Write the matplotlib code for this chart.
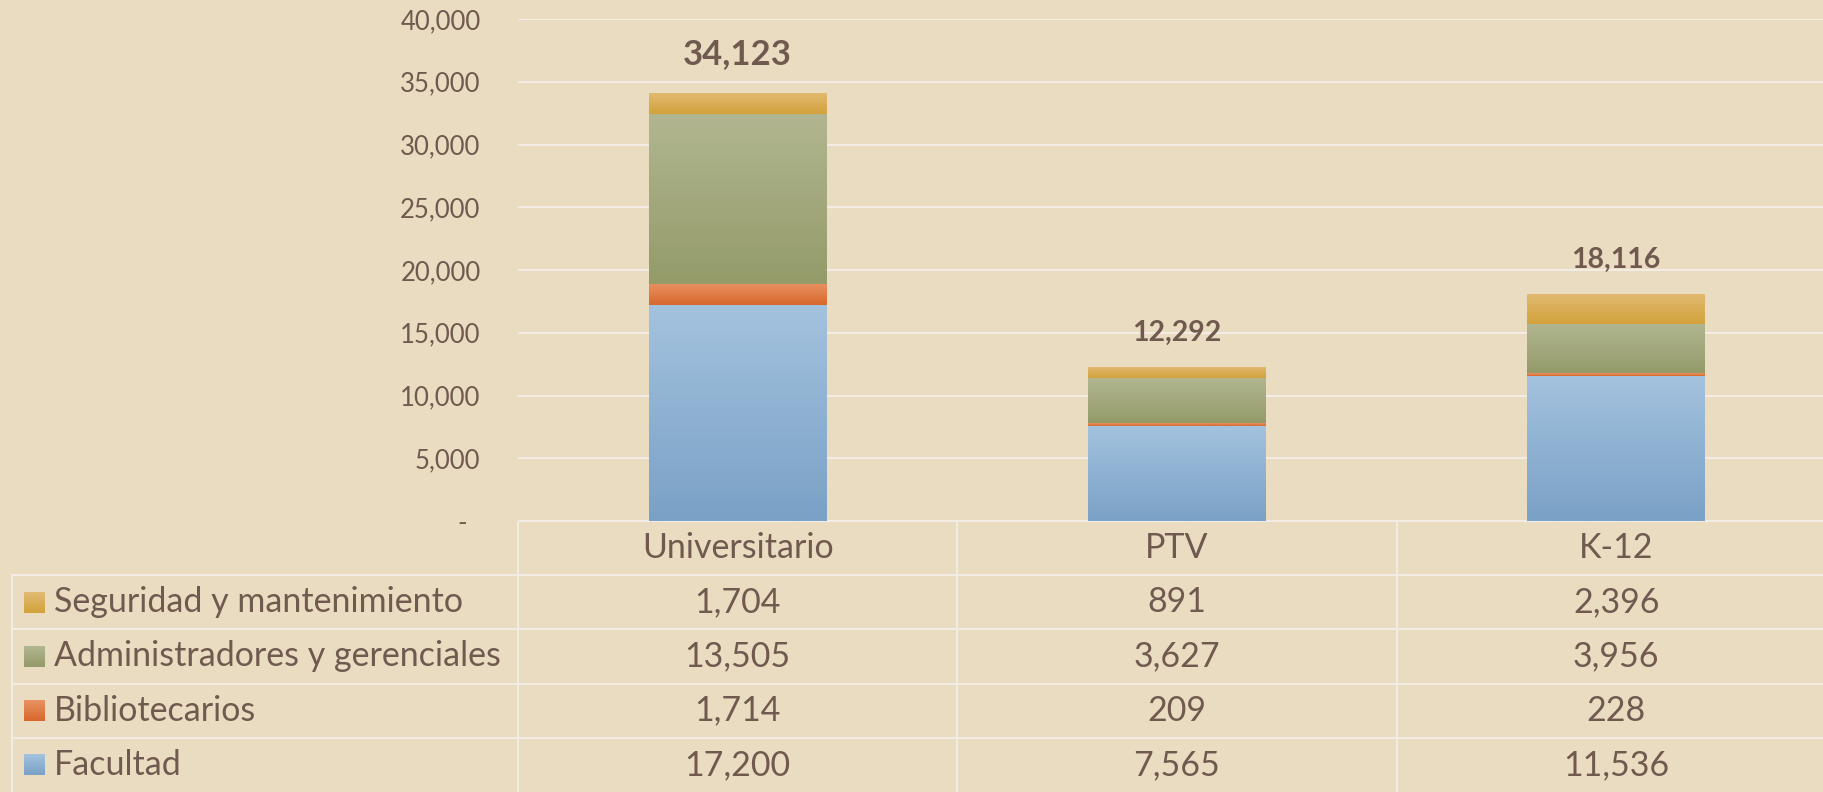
import numpy as np
import matplotlib.pyplot as plt
from matplotlib.colors import to_rgb

# datos del gráfico
categorias = ['Universitario', 'PTV', 'K-12']
series = ['Facultad', 'Bibliotecarios', 'Administradores y gerenciales', 'Seguridad y mantenimiento']
facultad = [17200, 7565, 11536]
bibliotecarios = [1714, 209, 228]
administradores = [13505, 3627, 3956]
seguridad = [1704, 891, 2396]
y_ticks = [0, 5000, 10000, 15000, 20000, 25000, 30000, 35000, 40000]

valores = [facultad, bibliotecarios, administradores, seguridad]
# degradado por serie: (arriba, abajo)
colores = [('#a3c2de', '#7aa1c6'),
           ('#e89262', '#d8682c'),
           ('#b1b690', '#949b69'),
           ('#e1bb72', '#d3a23c')]

fondo = '#eadcc1'
texto = '#705a4f'
linea = '#f2ece4'

plt.rcParams['font.family'] = ['Lato', 'DejaVu Sans']

W, H = 1824, 792
fig = plt.figure(figsize=(W / 100, H / 100), dpi=100, facecolor=fondo)

# área del gráfico en píxeles
x0_px, y0_px, ytop_px = 518, 521, 19
ppu = 439.3  # píxeles por categoría
ancho = 0.405

ax = fig.add_axes([x0_px / W, (H - y0_px) / H, (W - x0_px) / W, (y0_px - ytop_px) / H])
ax.set_facecolor('none')
xlim = (-0.5, -0.5 + (W - x0_px) / ppu)

x = np.arange(len(categorias))
base = np.zeros(len(categorias))
for vals, (c_top, c_bot) in zip(valores, colores):
    bars = ax.bar(x, vals, ancho, bottom=base, color='none', edgecolor='none', zorder=2)
    grad = np.linspace(to_rgb(c_bot), to_rgb(c_top), 64).reshape(64, 1, 3)
    for b in bars:
        bx, by = b.get_x(), b.get_y()
        im = ax.imshow(grad, extent=[bx, bx + b.get_width(), by, by + b.get_height()],
                       origin='lower', aspect='auto', zorder=2, interpolation='bilinear')
        im.set_clip_path(b)
    base = base + np.array(vals)

totales = base
for i, t in enumerate(totales):
    size = 25 if t == totales.max() else 20.5
    ax.annotate(f'{int(t):,}', (x[i], t), xytext=(0, 39 if t == totales.max() else 34),
                textcoords='offset pixels', ha='center', va='center',
                fontsize=size, fontweight='bold', color=texto)

ax.set_xlim(*xlim)
ax.set_ylim(0, 40000)
ax.set_yticks(y_ticks)
ax.set_yticklabels([f'{v:,}' if v else '-  ' for v in y_ticks])
ax.tick_params(axis='y', length=0, pad=27, labelsize=18.5, labelcolor=texto)
ax.set_xticks([])
ax.grid(axis='y', color=linea, linewidth=1.5, zorder=0)
for s in ax.spines.values():
    s.set_visible(False)

# tabla de datos debajo
tb = fig.add_axes([0, 0, 1, (H - y0_px) / H])
tb.set_facecolor('none')
tb.axis('off')

fila_h = (H - y0_px) / 5
izq = -0.5 - (x0_px - 12) / ppu
lw = 1.5
fs = 24.5
# líneas horizontales
tb.plot([-0.5, xlim[1] + 1], [y0_px, y0_px], color=linea, lw=lw)
for r in range(1, 5):
    y = y0_px + r * fila_h
    tb.plot([izq, xlim[1] + 1], [y, y], color=linea, lw=lw)
# líneas verticales
tb.plot([izq, izq], [y0_px + fila_h, H], color=linea, lw=lw)
for c in range(len(categorias)):
    tb.plot([c - 0.5, c - 0.5], [y0_px, H], color=linea, lw=lw)

for i, cat in enumerate(categorias):
    tb.text(i, y0_px + fila_h / 2, cat, ha='center', va='center', fontsize=fs, color=texto)

filas = list(zip(series, valores, colores))[::-1]
for r, (nombre, vals, (c_top, c_bot)) in enumerate(filas):
    yc = y0_px + (r + 1.5) * fila_h
    sq = 21 / ppu
    grad = np.linspace(to_rgb(c_bot), to_rgb(c_top), 16).reshape(16, 1, 3)
    sx = izq + 12 / ppu
    tb.imshow(grad, extent=[sx, sx + sq, yc + 10.5, yc - 10.5], origin='lower', aspect='auto')
    tb.text(izq + 42 / ppu, yc, nombre, ha='left', va='center', fontsize=fs, color=texto)
    for i, v in enumerate(vals):
        tb.text(i, yc, f'{v:,}', ha='center', va='center', fontsize=fs, color=texto)
tb.set_xlim(-0.5 - x0_px / ppu, -0.5 - x0_px / ppu + W / ppu)
tb.set_ylim(H, y0_px)

fig.savefig('out.png', dpi=100, facecolor=fondo)
